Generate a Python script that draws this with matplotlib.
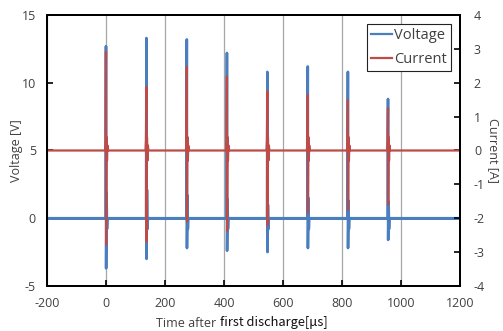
import numpy as np
import matplotlib.pyplot as plt

plt.rcParams['font.family'] = ['Open Sans', 'DejaVu Sans']
plt.rcParams['axes.unicode_minus'] = False

# discharge pulse times [us] and peak values
pulse_t = [0, 137, 274, 410, 547, 684, 820, 956]
v_max = [12.7, 13.3, 13.2, 12.2, 10.8, 11.2, 10.8, 8.8]
v_min = [-3.7, -3.0, -2.2, -2.4, -2.5, -2.2, -2.2, -1.6]
v_ring = [1.9, 2.1, 1.7, 1.4, 1.0, 1.5, 1.3, 1.2]
i_max = [2.92, 1.88, 2.47, 2.18, 1.74, 1.64, 1.49, 1.25]
i_min = [-2.79, -2.69, -2.10, -2.37, -2.20, -1.84, -1.76, -1.60]
v_noise = 0.12  # half-width of the voltage baseline noise band [V]

t_start, t_end = -200, 1200

blue = '#4a7ebf'
red = '#be4b48'
txt = '#404040'

# build traces: flat baseline with a short ringing burst at each pulse
vt, vv, it, iv = [t_start], [0.0], [t_start], [0.0]
for k, t0 in enumerate(pulse_t):
    vt += [t0 - 1, t0, t0 + 0.5, t0 + 2, t0 + 3.5, t0 + 5]
    vv += [0.0, v_max[k], v_min[k], v_ring[k], -0.8, 0.0]
    it += [t0 - 3, t0 - 1.5, t0, t0 + 0.5, t0 + 2, t0 + 3.5, t0 + 5, t0 + 7]
    iv += [0.0, 0.3, i_max[k], i_min[k], 0.4, -0.3, 0.15, 0.0]
vt.append(t_end); vv.append(0.0)
it.append(t_end); iv.append(0.0)

fig = plt.figure(figsize=(5.03, 3.31), dpi=100)
ax = fig.add_axes([0.0934, 0.136, 0.8211, 0.8187])
ax2 = ax.twinx()

ax.fill_between([t_start, t_end], -v_noise, v_noise, color=blue, lw=0)
lv, = ax.plot(vt, vv, color=blue, lw=1.9, label='Voltage')
li, = ax2.plot(it, iv, color=red, lw=1.6, label='Current')

ax.set_xlim(t_start, t_end)
ax.set_ylim(-5, 15)
ax2.set_ylim(-4, 4)
ax.set_xticks(range(-200, 1201, 200))
ax.set_yticks(range(-5, 16, 5))
ax2.set_yticks(range(-4, 5, 1))
ax.grid(axis='x', color='#a6a6a6', lw=0.9)
ax.set_axisbelow(True)

for a in (ax, ax2):
    a.tick_params(direction='in', length=4, width=1.2, colors='black',
                  labelcolor=txt, labelsize=9)
    for s in a.spines.values():
        s.set_linewidth(1.4)
ax.tick_params(axis='x', pad=8)
ax.tick_params(axis='y', pad=8)
ax2.tick_params(axis='y', pad=10)

ax.set_ylabel('Voltage [V]', color=txt, fontsize=9, labelpad=-1)
ax2.set_ylabel('Current [A]', color=txt, fontsize=9, rotation=-90, labelpad=11)

ax.text(0.418, -0.115, 'Time after ', transform=ax.transAxes, ha='right',
        va='top', fontsize=9, color=txt)
ax.text(0.418, -0.112, 'first discharge[μs]', transform=ax.transAxes,
        ha='left', va='top', fontsize=9.3, color='#111111',
        family=['Noto Sans CJK JP', 'DejaVu Sans'])

leg = ax2.legend(handles=[lv, li], loc='upper right', fontsize=10.5,
                 fancybox=False, framealpha=1, edgecolor='#222222',
                 handlelength=1.4, handletextpad=0.15, borderpad=0.3,
                 labelspacing=0.6, borderaxespad=0,
                 bbox_to_anchor=(0.978, 0.967))
leg.get_frame().set_linewidth(0.8)
for h in leg.get_lines():
    h.set_linewidth(1.6)
for t in leg.get_texts():
    t.set_color(txt)

fig.savefig('out.png', dpi=100)
